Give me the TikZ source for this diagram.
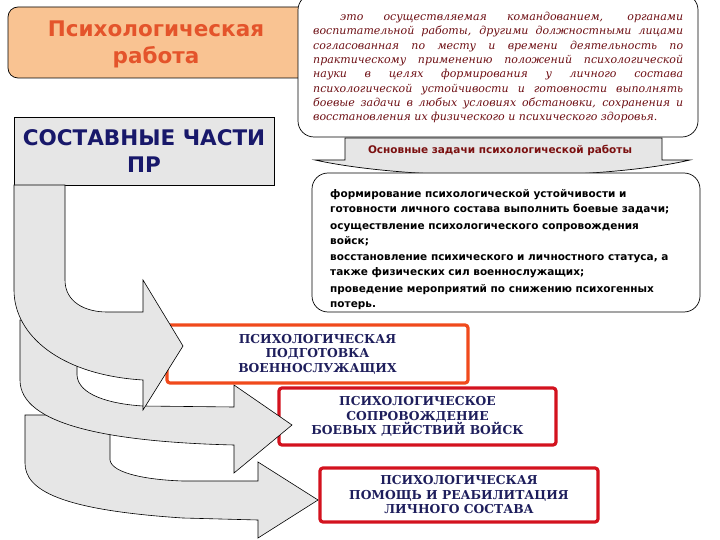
\documentclass[tikz,border=0pt]{standalone}
\usepackage{fontspec}
\setmainfont{DejaVu Sans}
\newfontfamily\defnfont{DejaVu Serif}
\newfontfamily\capsfont{DejaVu Serif}

\definecolor{peach}{HTML}{F9C392}
\definecolor{titleorange}{HTML}{E4542B}
\definecolor{navy}{HTML}{18186A}
\definecolor{boxgray}{HTML}{E6E6E6}
\definecolor{defred}{HTML}{6E0F14}
\definecolor{bannerred}{HTML}{7B1010}
\definecolor{boxorange}{HTML}{F04A1C}
\definecolor{boxred}{HTML}{D3121E}
\definecolor{captext}{HTML}{1E1E5C}

\tikzset{
  titlebox/.style={draw=black, fill=peach, line width=0.7pt, rounded corners=10pt},
  titletext/.style={text=titleorange, align=center, font=\fontsize{21.5}{27}\selectfont\bfseries},
  defbox/.style={draw=black, fill=white, line width=0.7pt, rounded corners=16pt},
  defntext/.style={text=defred, inner sep=0pt, text width=370pt, align=justify,
    font=\defnfont\fontsize{11}{14.3}\selectfont\itshape},
  banner/.style={draw=black, fill=boxgray, line width=0.7pt},
  bannertext/.style={text=bannerred, font=\fontsize{10.5}{12}\selectfont\bfseries},
  tasktext/.style={anchor=west, inner sep=0pt, align=left,
    font=\fontsize{10.5}{15}\selectfont\bfseries},
  partsbox/.style={draw=black, fill=boxgray, line width=0.7pt, text=navy, align=center,
    font=\fontsize{21.5}{27}\selectfont\bfseries},
  bendarrow/.style={draw=black, fill=boxgray, line width=0.6pt, line join=miter},
  partbox/.style={fill=white, line width=3.2pt, rounded corners=3pt, text=captext,
    align=center, font=\capsfont\fontsize{12.3}{14.5}\selectfont\bfseries}
}

\begin{document}
\begin{tikzpicture}[x=1pt,y=-1pt]
\useasboundingbox[fill=white] (0,0) rectangle (720,540);
% heading and definition
\draw[titlebox] (8,7) rectangle (330,78);
\node[titletext] (title) at (156,44) {Психологическая\\работа};
\draw[defbox] (298,-6) rectangle (698,137);
\node[defntext, anchor=north west] (defn) at (313,12) {\hspace*{27pt}это осуществляемая командованием, органами\linebreak
воспитательной работы, другими должностными лицами\linebreak
согласованная по месту и времени деятельность по\linebreak
практическому применению положений психологической\linebreak
науки в целях формирования у личного состава\linebreak
психологической устойчивости и готовности выполнять\linebreak
боевые задачи в любых условиях обстановки, сохранения и\linebreak
восстановления их физического и психического здоровья.};

% main tasks
\draw[banner] (345,138) -- (662,138) -- (662,160) -- (690,160)
  .. controls (600,181) and (410,181) .. (315,160) -- (345,160) -- cycle;
\node[bannertext] (taskhead) at (500,150) {Основные задачи психологической работы};
\draw[defbox] (312,173) rectangle (700,312);
\node[tasktext] (task1) at (330,201.5) {формирование психологической устойчивости и\\готовности личного состава выполнить боевые задачи;};
\node[tasktext] (task2) at (330,234.5) {осуществление психологического сопровождения\\войск;};
\node[tasktext] (task3) at (330,266) {восстановление психического и личностного статуса, а\\также физических сил военнослужащих;};
\node[tasktext] (task4) at (330,297.5) {проведение мероприятий по снижению психогенных\\потерь.};

\node[partsbox, minimum width=260pt, minimum height=68pt] (parts) at (144,151) {СОСТАВНЫЕ ЧАСТИ\\ПР};

% parts and bent arrows, bottom to top
\node[partbox, draw=boxred, minimum width=278pt, minimum height=54pt] (help) at (459,495) {ПСИХОЛОГИЧЕСКАЯ\\ПОМОЩЬ И РЕАБИЛИТАЦИЯ\\ЛИЧНОГО СОСТАВА};
\draw[bendarrow] (25,415) -- (110,415) -- (110,460) .. controls (112,474) and (150,480) .. (183,481)
  -- (258,481) -- (258,462) -- (318,500) -- (258,538) -- (258,520) -- (183,518)
  .. controls (60,510) and (25,490) .. (25,463) -- cycle;
\node[partbox, draw=boxred, minimum width=277pt, minimum height=57pt] (support) at (417.5,416.5) {ПСИХОЛОГИЧЕСКОЕ\\СОПРОВОЖДЕНИЕ\\БОЕВЫХ ДЕЙСТВИЙ ВОЙСК};
\draw[bendarrow] (20,320) -- (77,320) -- (77,375) .. controls (78,395) and (110,404) .. (143,406)
  -- (234,407) -- (234,385) -- (292,425) -- (234,473) -- (234,445)
  .. controls (110,442) and (20,425) .. (20,380) -- cycle;
\node[partbox, draw=boxorange, minimum width=301pt, minimum height=58pt] (training) at (317.5,354) {ПСИХОЛОГИЧЕСКАЯ\\ПОДГОТОВКА\\ВОЕННОСЛУЖАЩИХ};
\draw[bendarrow] (14,185) -- (65,185) -- (65,280) .. controls (65,302) and (85,312) .. (107,312)
  -- (143,312) -- (143,280) -- (183,346) -- (143,410) -- (143,380)
  .. controls (60,375) and (14,335) .. (14,290) -- cycle;
\end{tikzpicture}
\end{document}
